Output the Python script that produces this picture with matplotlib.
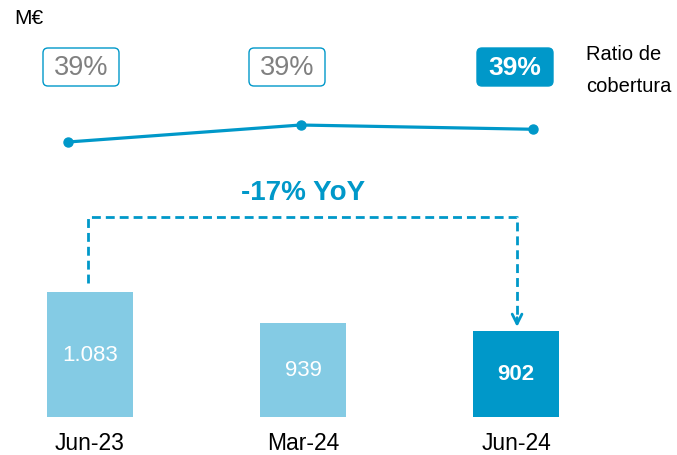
import matplotlib.pyplot as plt
from matplotlib.patches import FancyBboxPatch

plt.rcParams['font.family'] = ['Liberation Sans', 'DejaVu Sans']

categories = ["Jun-23", "Mar-24", "Jun-24"]
stock = [1083, 939, 902]
stock_labels = ["1.083", "939", "902"]
ratio = [38.7, 39.3, 39.15]
ratio_labels = ["39%", "39%", "39%"]
yoy_label = "-17% YoY"

dark = "#0098C9"
light = "#84CBE4"
W, H = 677, 456

fig = plt.figure(figsize=(W / 100, H / 100), dpi=100)

# --- barras (eje truncado en 500)
base = 500
ax = fig.add_axes([0, 38 / H, 1, 418 / H])
ax.set_xlim(-90 / 213, (W - 90) / 213)
ax.set_ylim(base, base + 418 / 0.215)
colors = [light, light, dark]
ax.bar(range(3), [v - base for v in stock], bottom=base, width=0.4, color=colors)
for i, (v, lab) in enumerate(zip(stock, stock_labels)):
    ax.text(i, base + (v - base) / 2, lab, ha="center", va="center", color="white",
            fontsize=16, fontweight="bold" if i == 2 else "normal")
ax.set_xticks(range(3), categories, fontsize=16.5)
ax.tick_params(length=0, pad=10)
ax.set_yticks([])
for s in ax.spines.values():
    s.set_visible(False)
ax.patch.set_alpha(0)

# flecha discontinua YoY
top = 1432
ax.plot([-0.01, -0.01, 2.005, 2.005], [1121, top, top, 940], color=dark, lw=2.0,
        linestyle=(0, (3.2, 1.8)), clip_on=False)
ax.annotate("", xy=(2.005, 906), xytext=(2.005, 975),
            arrowprops=dict(arrowstyle="->,head_length=0.7,head_width=0.35",
                            color=dark, lw=2.0))
ax.text(1, 1545, yoy_label, ha="center", va="center", color=dark, fontsize=20, fontweight="bold")

# --- linea ratio de cobertura
lx = fig.add_axes([0, 0, 1, 1])
lx.set_xlim(-68 / 232.5, (W - 68) / 232.5)
lx.set_ylim(38.7 - (H - 143) / 28.3, 38.7 + 143 / 28.3)
lx.plot(range(3), ratio, color=dark, lw=2.3, marker="o", markersize=6.5)
lx.axis("off")

# cajas de etiquetas (en pulgadas: 1 in = 100 px)
box_x = [81, 287, 515]
bw, bh = 76, 38
for i, (x, lab) in enumerate(zip(box_x, ratio_labels)):
    filled = i == 2
    box = FancyBboxPatch(((x - bw / 2) / 100, (H - 68 - bh / 2) / 100), bw / 100, bh / 100,
                         boxstyle="round,pad=0,rounding_size=0.05",
                         fc=dark if filled else "white", ec=dark, lw=1,
                         transform=fig.dpi_scale_trans)
    fig.add_artist(box)
    fig.text(x / W, 1 - 68 / H, lab, ha="center", va="center",
             color="white" if filled else "#808080", fontsize=19 if filled else 19.5,
             fontweight="bold" if filled else "normal")

fig.text(586 / W, 1 - 55 / H, "Ratio de", ha="left", va="center", fontsize=14.5)
fig.text(586 / W, 1 - 87 / H, "cobertura", ha="left", va="center", fontsize=14.5)
fig.text(14 / W, 1 - 19 / H, "M€", ha="left", va="center", fontsize=15)

fig.savefig("out.png", dpi=100)
